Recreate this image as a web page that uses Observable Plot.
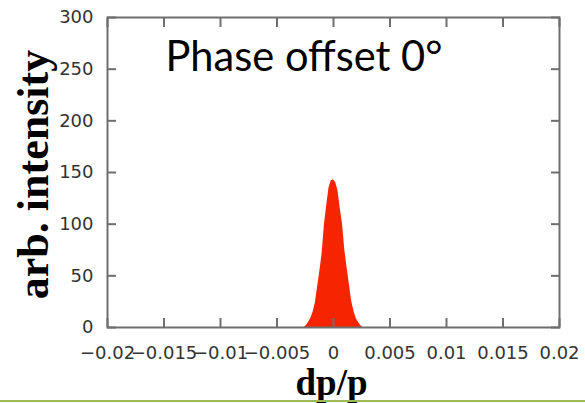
<!DOCTYPE html>
<html>
<head>
<meta charset="utf-8">
<script src="https://cdn.jsdelivr.net/npm/d3@7"></script>
<script src="https://cdn.jsdelivr.net/npm/@observablehq/plot@0.6"></script>
<style>
  html, body { margin: 0; padding: 0; background: white; }
  #wrap { position: relative; width: 585px; height: 403px; overflow: hidden; }
  #greenline { position: absolute; left: 0; top: 400px; width: 585px; height: 2px; background: #9bbb59; }
</style>
</head>
<body>
<div id="wrap"><div id="chart"></div><div id="greenline"></div></div>
<script>
// Histogram of dp/p (bin centres) and counts
const dpBins = [-0.0026, -0.0024, -0.0022, -0.0020, -0.0018, -0.0016, -0.0014, -0.0012, -0.0010, -0.0008, -0.0006, -0.0004, -0.0002, 0,
                0.0002, 0.0004, 0.0006, 0.0008, 0.0010, 0.0012, 0.0014, 0.0016, 0.0018, 0.0020, 0.0022, 0.0024, 0.0026];
const counts = [0, 2, 5, 9, 15, 24, 40, 55, 72, 100, 118, 135, 142, 143,
                140, 132, 115, 100, 75, 58, 42, 26, 16, 9, 5, 2, 0];

const xTicks = [-0.02, -0.015, -0.01, -0.005, 0, 0.005, 0.01, 0.015, 0.02];
const xTickLabels = ["\u22120.02", "\u22120.015", "\u22120.01", "\u22120.005", "0", "0.005", "0.01", "0.015", "0.02"];
const yTicks = [0, 50, 100, 150, 200, 250, 300];
const yTickLabels = ["0", "50", "100", "150", "200", "250", "300"];

const titleText = "Phase offset 0°";
const xLabel = "dp/p";
const yLabel = "arb. intensity";

const data = dpBins.map((x, i) => ({x, y: counts[i]}));

const frameColor = "#6e6e6e";

const chart = Plot.plot({
  width: 585,
  height: 400,
  marginLeft: 107,
  marginRight: 26,
  marginTop: 17,
  marginBottom: 73,
  style: {fontFamily: "DejaVu Sans", fontSize: "18px", color: "#333", background: "white", overflow: "visible"},
  x: {domain: [-0.02, 0.02], axis: null},
  y: {domain: [0, 300], axis: null},
  marks: [
    Plot.areaY(data, {x: "x", y: "y", curve: "linear", fill: "#f72400"}),
    Plot.axisX(xTicks, {anchor: "bottom", tickSize: -9, tickFormat: () => "", label: null, stroke: frameColor, strokeWidth: 2}),
    Plot.axisX(xTicks, {anchor: "top", tickSize: -9, tickFormat: () => "", label: null, stroke: frameColor, strokeWidth: 2}),
    Plot.axisY(yTicks, {anchor: "left", tickSize: -9, tickFormat: () => "", label: null, stroke: frameColor, strokeWidth: 2}),
    Plot.axisY(yTicks, {anchor: "right", tickSize: -9, tickFormat: () => "", label: null, stroke: frameColor, strokeWidth: 2}),
    Plot.axisX(xTicks, {anchor: "bottom", tickSize: 0, tickPadding: 19, label: null, fill: "#333",
      tickFormat: d => xTickLabels[xTicks.indexOf(d)]}),
    Plot.axisY(yTicks, {anchor: "left", tickSize: 0, tickPadding: 14, label: null, fill: "#333",
      tickFormat: d => yTickLabels[yTicks.indexOf(d)]}),
    Plot.frame({stroke: frameColor, strokeWidth: 2}),
    Plot.text([titleText], {frameAnchor: "top-left", text: d => d, textAnchor: "start", lineAnchor: "top",
      dx: 58, dy: 23, fontSize: 43, fontFamily: "Lato", fill: "black"}),
    Plot.text([yLabel], {frameAnchor: "left", text: d => d, rotate: -90, textAnchor: "middle", lineAnchor: "middle",
      dx: -74, dy: 2, fontSize: 44, fontWeight: "bold", fontFamily: "Liberation Serif", fill: "black"}),
    Plot.text([xLabel], {frameAnchor: "bottom", text: d => d, textAnchor: "middle", lineAnchor: "middle",
      dy: 56, dx: -2, fontSize: 37, fontWeight: "bold", fontFamily: "Liberation Serif", fill: "black"})
  ]
});
document.getElementById("chart").appendChild(chart);
const t = Array.from(chart.querySelectorAll("text")).find(el => el.textContent === titleText);
if (t) { t.setAttribute("textLength", "277"); t.setAttribute("lengthAdjust", "spacingAndGlyphs"); }
</script>
</body>
</html>
